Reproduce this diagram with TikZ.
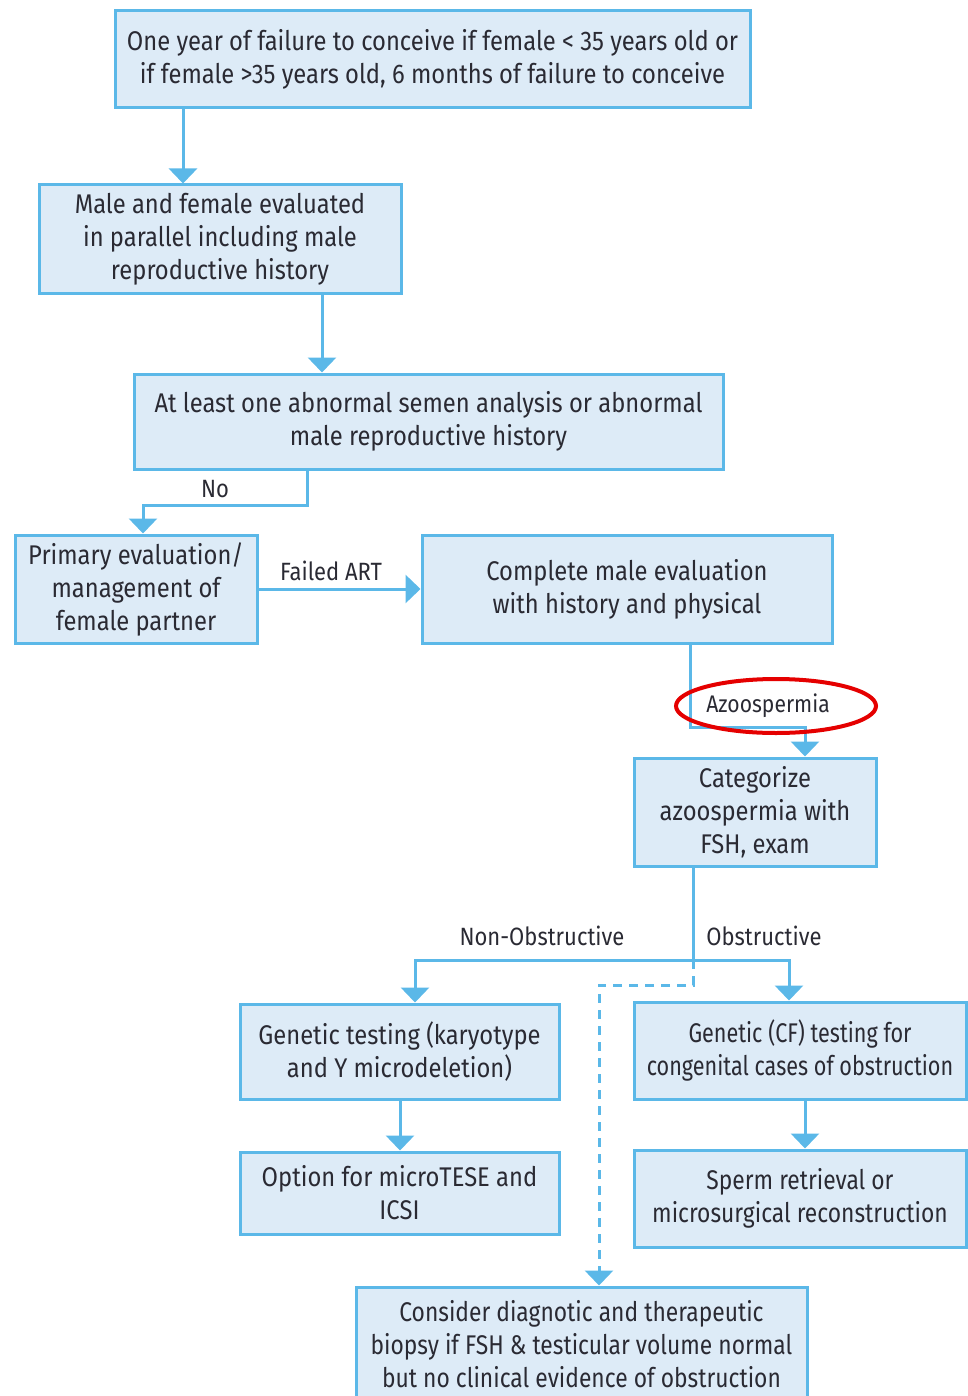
\documentclass[tikz,border=0pt]{standalone}
\usepackage{fontspec}
\setmainfont[FakeStretch=0.88]{Fira Sans}
\newfontfamily\narrowA[FakeStretch=0.8]{Fira Sans}
\newfontfamily\narrowB[FakeStretch=0.845]{Fira Sans}
\usetikzlibrary{arrows.meta}
\definecolor{boxfill}{HTML}{DDEBF7}
\definecolor{boxline}{HTML}{5BB8E8}
\definecolor{txt}{HTML}{2A2A33}
\tikzset{
  box/.style={draw=boxline, fill=boxfill, line width=3pt, inner sep=0pt, align=center, text=txt,
    font=\fontsize{27}{33}\selectfont},
  conn/.style={draw=boxline, line width=3pt},
  arr/.style={conn, -{Triangle[width=28pt,length=15pt]}},
  dconn/.style={arr, dash pattern=on 9pt off 7pt},
  lbl/.style={text=txt, font=\fontsize{25}{30}\selectfont, inner sep=0pt},
}
\begin{document}
\begin{tikzpicture}[x=1pt,y=-1pt]
\useasboundingbox (0,0) rectangle (967,1396);
\node[box, minimum width=635pt, minimum height=97pt] (b1) at (432.5,59.5)
  {One year of failure to conceive if female < 35 years old or\\ if female >35 years old, 6 months of failure to conceive};
\node[box, minimum width=362pt, minimum height=109pt] (b2) at (220,239.5)
  {Male and female evaluated\\ in parallel including male\\ reproductive history};
\node[box, minimum width=589pt, minimum height=95pt] (b3) at (428.5,421.5)
  {At least one abnormal semen analysis or abnormal\\ male reproductive history};
\node[box, minimum width=242pt, minimum height=108pt] (b4) at (136,589)
  {Primary evaluation/\\ management of\\ female partner};
\node[box, minimum width=410pt, minimum height=108pt] (b5) at (627,589)
  {Complete male evaluation\\ with history and physical};
\node[box, minimum width=242pt, minimum height=108pt] (b6) at (755,812)
  {Categorize\\ azoospermia with\\ FSH, exam};
\node[box, minimum width=319pt, minimum height=95pt] (b7) at (399.5,1051.5)
  {Genetic testing (karyotype\\ and Y microdeletion)};
\node[box, minimum width=332pt, minimum height=97pt, font=\narrowA\fontsize{27}{33}\selectfont] (b8) at (800,1050.5)
  {Genetic (CF) testing for\\ congenital cases of obstruction};
\node[box, minimum width=319pt, minimum height=82pt] (b9) at (399.5,1193)
  {Option for microTESE and\\ ICSI};
\node[box, minimum width=332pt, minimum height=97pt, font=\narrowB\fontsize{27}{33}\selectfont] (b10) at (800,1198.5)
  {Sperm retrieval or\\ microsurgical reconstruction};
\node[box, minimum width=451pt, minimum height=114pt, font=\narrowB\fontsize{27}{33}\selectfont] (b11) at (581.5,1344)
  {Consider diagnotic and therapeutic\\ biopsy if FSH \& testicular volume normal\\ but no clinical evidence of obstruction};
% connectors
\draw[arr] (b1.south -| 183,0) -- (b2.north -| 183,0);
\draw[arr] (b2.south -| 322,0) -- (b3.north -| 322,0);
\coordinate (no1) at (307,505);
\coordinate (no2) at (143,505);
\draw[arr] (b3.south -| no1) -- (no1) -- (no2) -- (b4.north -| no2);
\node[lbl] (lno) at (215,489) {No};
\draw[arr] (b4.east) -- (b5.west);
\node[lbl] (lfart) at (331,571) {Failed ART};
\coordinate (az1) at (690,727);
\coordinate (az2) at (805,727);
\draw[arr] (b5.south -| az1) -- (az1) -- (az2) -- (b6.north -| az2);
\node[lbl, font=\fontsize{24}{28}\selectfont] (laz) at (768,706) {Azoospermia};
\draw[red!90!black, line width=4pt] (776,706) ellipse [x radius=100pt, y radius=27pt];
\coordinate (sp) at (693,960);
\coordinate (nl) at (415,960);
\coordinate (ob) at (789,960);
\draw[conn] (b6.south -| sp) -- (sp);
\draw[arr] (sp) -- (nl) -- (b7.north -| nl);
\draw[arr] (sp) -- (ob) -- (b8.north -| ob);
\node[lbl] (lnob) at (542,936) {Non-Obstructive};
\node[lbl] (lob) at (764,936) {Obstructive};
\coordinate (d1) at (693,985);
\coordinate (d2) at (599,985);
\draw[dconn] (sp) -- (d1) -- (d2) -- (b11.north -| d2);
\draw[arr] (b7.south -| 400,0) -- (b9.north -| 400,0);
\draw[arr] (b8.south -| 805,0) -- (b10.north -| 805,0);
\end{tikzpicture}
\end{document}
